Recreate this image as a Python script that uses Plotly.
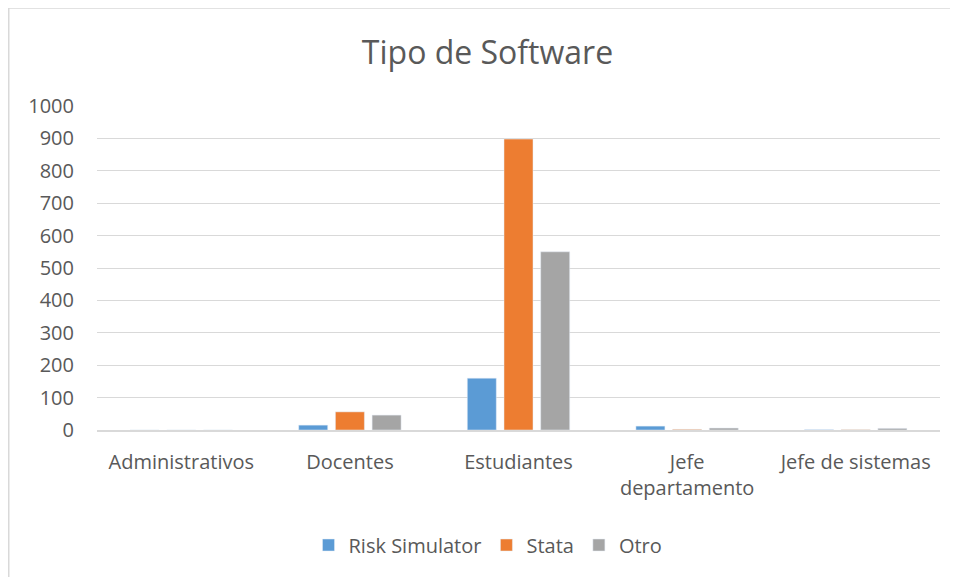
import plotly.graph_objects as go

categories = ["Administrativos", "Docentes", "Estudiantes", "Jefe<br>departamento", "Jefe de sistemas"]
risk_simulator = [0, 15, 160, 12, 1]
stata = [0, 56, 898, 2, 1]
otro = [0, 46, 550, 6, 5]
y_ticks = [0, 100, 200, 300, 400, 500, 600, 700, 800, 900, 1000]

FONT = "'Open Sans', 'Liberation Sans', sans-serif"
TXT = "#595959"

fig = go.Figure()
fig.add_bar(name="Risk Simulator", x=categories, y=risk_simulator, marker_color="#5B9BD5")
fig.add_bar(name="Stata", x=categories, y=stata, marker_color="#ED7D31")
fig.add_bar(name="Otro", x=categories, y=otro, marker_color="#A5A5A5")

# page body has an 8px margin; figure is drawn 8px in from the window edge
W, H = 950, 569
L, R, T, B = 89, 18, 98, 147
PW, PH = W - L - R, H - T - B

fig.update_layout(
    width=W, height=H,
    margin=dict(l=L, r=R, t=T, b=B),
    paper_bgcolor="white", plot_bgcolor="white",
    barmode="group", bargap=0.347, bargroupgap=0.21,
    font=dict(family=FONT, size=20, color=TXT),
    title=dict(text="Tipo de Software", x=(487.5 - 8) / W, xanchor="center", y=1 - 45 / H, yanchor="middle",
               font=dict(family=FONT, size=32, color=TXT)),
    legend=dict(orientation="h", x=(488 - 8 - L) / PW, xanchor="center", y=(422 - 537) / PH, yanchor="middle",
                font=dict(family=FONT, size=20, color=TXT), itemwidth=30),
    xaxis=dict(showgrid=False, showline=True, linecolor="#D9D9D9", linewidth=1.5,
               ticks="", ticklabelstandoff=13, tickfont=dict(size=20, color=TXT)),
    yaxis=dict(range=[0, 1000], tickvals=y_ticks, showgrid=True, gridcolor="#D9D9D9",
               gridwidth=1.3, zeroline=False, showline=False, ticks="",
               ticklabelstandoff=22, tickfont=dict(size=20, color=TXT)),
    shapes=[dict(type="rect", xref="paper", yref="paper",
                 x0=(0.75 - L) / PW, x1=(W + 5 - L) / PW,
                 y0=(422 - (H + 5)) / PH, y1=(422 - 0.0) / PH,
                 line=dict(color="#D9D9D9", width=1.5), fillcolor="rgba(0,0,0,0)", layer="below")],
)
fig.write_html("out.html")
